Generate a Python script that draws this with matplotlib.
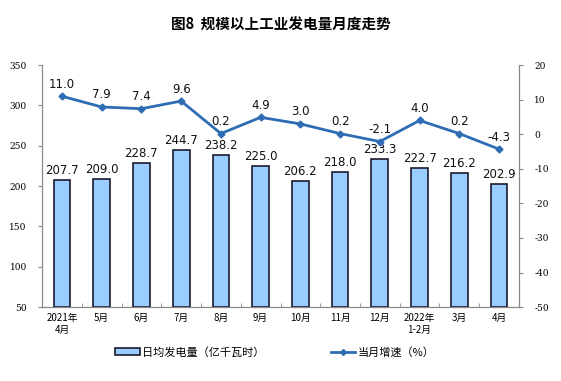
import numpy as np
import matplotlib
matplotlib.use("Agg")
import matplotlib.pyplot as plt
from matplotlib.lines import Line2D
from matplotlib.patches import Patch

plt.rcParams['font.family'] = ['Noto Sans CJK SC', 'DejaVu Sans']
plt.rcParams['axes.unicode_minus'] = False

# 数据
months = ['2021年\n4月', '5月', '6月', '7月', '8月', '9月', '10月', '11月',
          '12月', '2022年\n1-2月', '3月', '4月']
daily_output = [207.7, 209.0, 228.7, 244.7, 238.2, 225.0, 206.2, 218.0,
                233.3, 222.7, 216.2, 202.9]
growth = [11.0, 7.9, 7.4, 9.6, 0.2, 4.9, 3.0, 0.2, -2.1, 4.0, 0.2, -4.3]

bar_color = '#99CCFF'
line_color = '#2E6DB4'
spine_color = '#888888'

fig = plt.figure(figsize=(5.61, 3.81), dpi=100)
ax = fig.add_axes([0.075, 0.194, 0.850, 0.635])
ax2 = ax.twinx()

x = np.arange(len(months))
ax.bar(x, [v - 50 for v in daily_output], bottom=50, width=0.42,
       color=bar_color, edgecolor='#1a1a2e', linewidth=1.2, zorder=2)
for xi, v in zip(x, daily_output):
    ax.text(xi, v + 3.5, f'{v:.1f}', ha='center', va='bottom',
            fontsize=8.5, family='DejaVu Sans', color='#111111')

ax.set_xlim(-0.45, len(months) - 0.55)
ax.set_ylim(50, 350)
ax.set_yticks(range(50, 351, 50))
ax.set_xticks(x)
ax.set_xticklabels(months, fontsize=7, linespacing=1.3)
ax.set_xticks(np.arange(-0.5, len(months), 1), minor=True)
ax.tick_params(axis='x', which='major', length=0, pad=4)
ax.tick_params(axis='x', which='minor', length=3, direction='in', color=spine_color)
ax.tick_params(axis='y', length=3, direction='out', color=spine_color,
               labelsize=6.5, pad=8)
for lab in ax.get_yticklabels():
    lab.set_family('DejaVu Serif')

ax2.plot(x, growth, color=line_color, linewidth=2, marker='D',
         markersize=3.5, zorder=3)
for xi, v in zip(x, growth):
    ax2.text(xi, v + 1.6, f'{v:.1f}', ha='center', va='bottom',
             fontsize=8.5, family='DejaVu Sans', color='#111111')
ax2.set_ylim(-50, 20)
ax2.set_yticks(range(-50, 21, 10))
ax2.tick_params(axis='y', length=3, direction='out', color=spine_color,
                labelsize=6.5, pad=8)
for lab in ax2.get_yticklabels():
    lab.set_family('DejaVu Serif')

for a in (ax, ax2):
    a.spines['top'].set_visible(False)
    for s in ('left', 'right', 'bottom'):
        a.spines[s].set_color(spine_color)
        a.spines[s].set_linewidth(0.8)

fig.text(0.5, 0.935, '图8  规模以上工业发电量月度走势', ha='center', va='center',
         fontsize=10.5, fontweight='bold')

handles = [Patch(facecolor=bar_color, edgecolor='#1a1a2e', linewidth=1.2),
           Line2D([0], [0], color=line_color, linewidth=2, marker='D', markersize=3)]
fig.legend(handles, ['日均发电量（亿千瓦时）', '当月增速（%）'],
           loc='center', bbox_to_anchor=(0.49, 0.075), ncol=2, frameon=False,
           fontsize=8, handlelength=2.2, handleheight=0.6, handletextpad=0.2,
           columnspacing=6)

fig.savefig('out.png', dpi=100)
